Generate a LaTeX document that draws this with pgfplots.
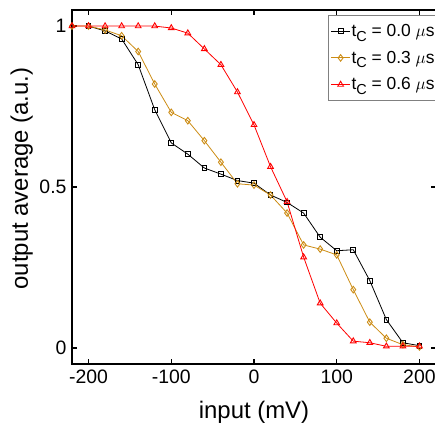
\documentclass[border=0pt]{standalone}
\usepackage{fontspec}
\setmainfont{Liberation Sans}
\usepackage{pgfplots}
\pgfplotsset{compat=1.18}
\definecolor{gold}{RGB}{204,140,20}
\definecolor{legred}{RGB}{255,0,0}
\newcommand{\lf}{\fontsize{17.5}{19}\selectfont}
\newcommand{\tc}{t\raisebox{-4.5bp}{\fontsize{14.5}{14}\selectfont C}}
\begin{document}
\begin{tikzpicture}
\begin{axis}[
  scale only axis,
  width=364bp, height=354bp,
  xmin=-220, xmax=220, ymin=-0.05, ymax=1.05,
  xtick={-200,-100,0,100,200},
  ytick={0,0.5,1},
  yticklabels={0,0.5,1},
  tick align=inside,
  major tick length=5bp,
  axis line style={line width=1.8bp},
  every tick/.style={black, line width=1.2bp},
  /pgf/number format/assume math mode=true,
  tick label style={font=\fontsize{19.5}{22}\selectfont},
  xticklabel style={yshift=-2bp},
  yticklabel style={xshift=-2bp},
  xlabel={input (mV)},
  ylabel={output average (a.u.)},
  label style={font=\fontsize{24}{28}\selectfont},
  xlabel style={at={(axis description cs:0.5,0)}, anchor=north, inner sep=0pt, yshift=-37bp},
  ylabel style={at={(axis description cs:0,0.524)}, anchor=south, inner sep=0pt, yshift=39bp},
  clip=false,
  legend style={at={(axis description cs:1,1)}, anchor=north east, xshift=2bp, yshift=-5bp,
    draw=gray, line width=0.8bp, font=\lf, inner xsep=2bp, inner ysep=8bp,
    row sep=11bp, cells={anchor=west}, nodes={inner sep=1bp}},
  legend image code/.code={\draw[mark repeat=2,mark phase=2] plot coordinates {(0bp,0bp) (9.5bp,0bp) (19bp,0bp)};},
  legend cell align=left,
]
\addplot[black, line width=0.8bp, mark=square, mark size=2.4bp, mark options={line width=0.9bp}] coordinates {
(-200,1.0) (-180,0.985) (-160,0.96) (-140,0.88) (-120,0.74) (-100,0.637) (-80,0.602) (-60,0.559) (-40,0.54) (-20,0.52) (0,0.512) (20,0.475) (40,0.452) (60,0.419) (80,0.344) (100,0.302) (120,0.305) (140,0.209) (160,0.088) (180,0.016) (200,0.007)};
\addlegendentry{\lf\tc{} = 0.0 $\mu$s}
\addplot[gold, line width=0.8bp, mark=diamond, mark size=3.3bp, mark options={line width=0.9bp}] coordinates {
(-220,1.0) (-200,1.0) (-180,0.988) (-160,0.97) (-140,0.921) (-120,0.82) (-100,0.732) (-80,0.706) (-60,0.644) (-40,0.577) (-20,0.51) (0,0.506) (20,0.475) (40,0.419) (60,0.32) (80,0.307) (100,0.289) (120,0.181) (140,0.08) (160,0.03) (180,0.01) (200,0.003)};
\addlegendentry{\lf\tc{} = 0.3 $\mu$s}
\addplot[legred, line width=0.8bp, mark=triangle, mark size=3.3bp, mark options={line width=0.9bp}] coordinates {
(-220,1.0) (-200,1.0) (-180,1.0) (-160,1.0) (-140,1.0) (-120,1.0) (-100,0.994) (-80,0.978) (-60,0.929) (-40,0.88) (-20,0.795) (0,0.693) (20,0.563) (40,0.454) (60,0.282) (80,0.139) (100,0.077) (120,0.021) (140,0.016) (160,0.005) (180,0.005) (200,0.005)};
\addlegendentry{\lf\tc{} = 0.6 $\mu$s}
\coordinate (bl) at (rel axis cs:0,0);
\coordinate (tl) at (rel axis cs:0,1);
\end{axis}
\pgfresetboundingbox
\path ([shift={(-72bp,-59bp)}]bl) rectangle ([shift={(363bp,10bp)}]tl);
\end{tikzpicture}
\end{document}
